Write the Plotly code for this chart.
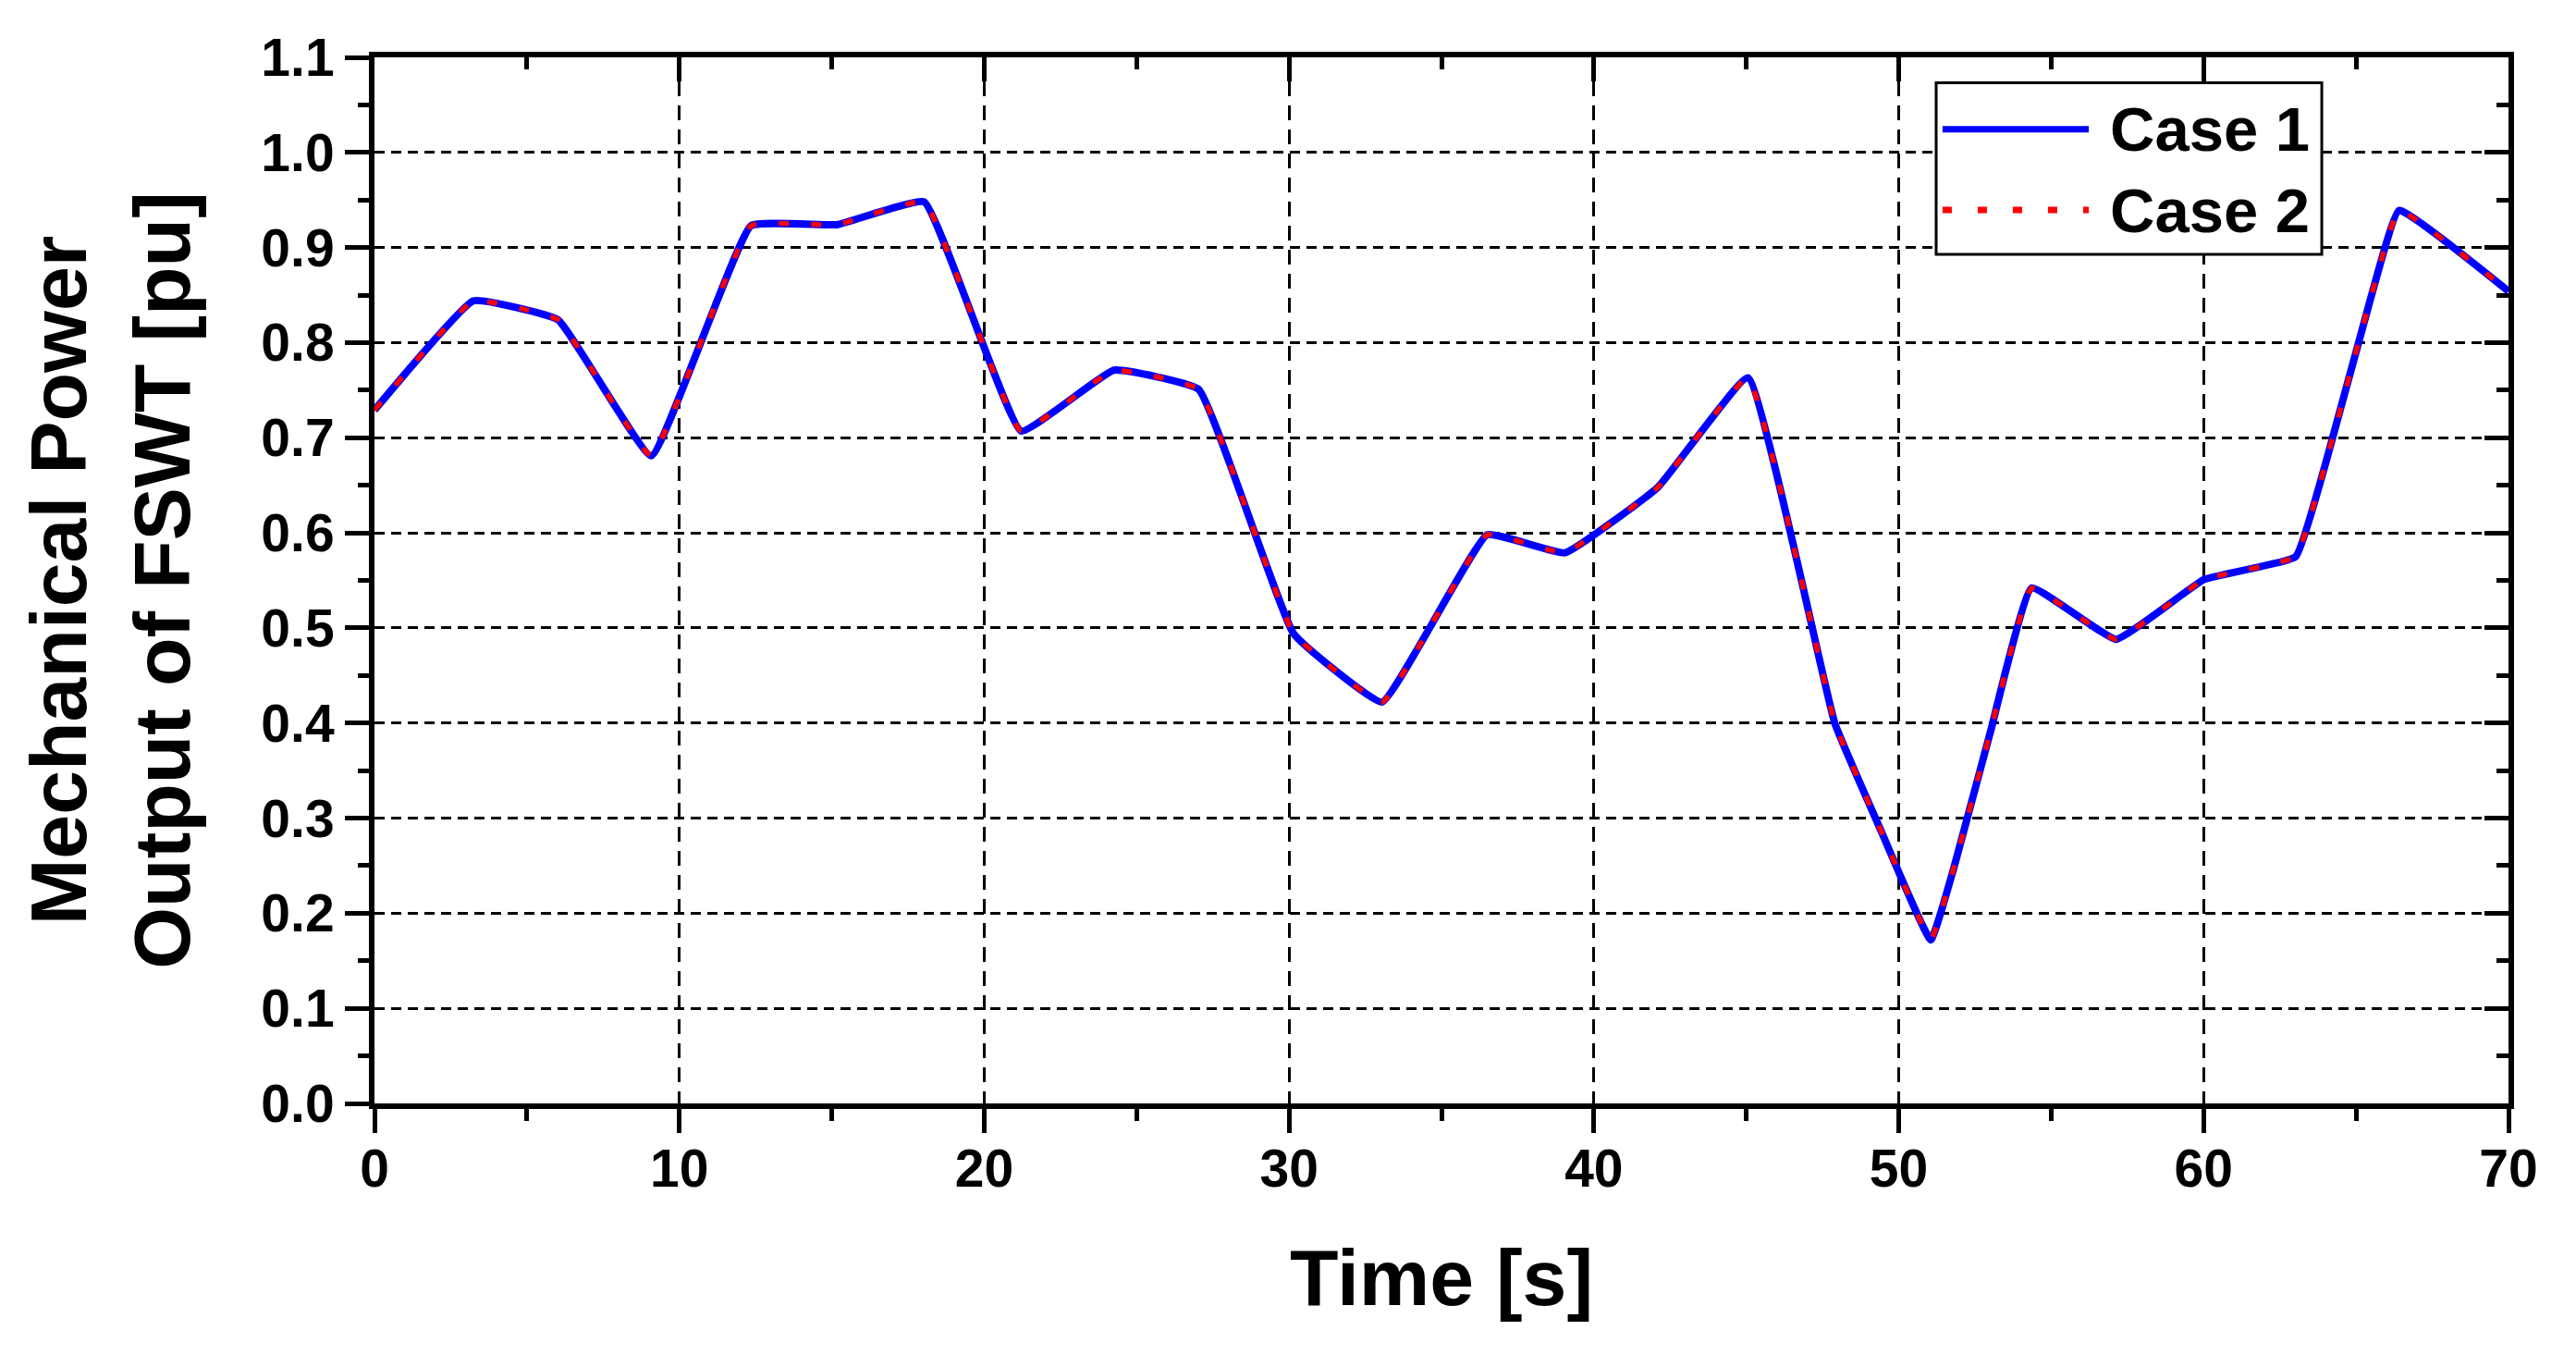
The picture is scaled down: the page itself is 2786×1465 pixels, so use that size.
import plotly.graph_objects as go

# values
time_s = [0, 3.25, 6.02, 9.08, 12.35, 15.17, 18.03, 21.21, 24.25, 27.03,
          30.15, 33.05, 36.5, 39.05, 42.1, 45.05, 47.9, 49.4, 51.05, 51.8,
          53.0, 54.36, 57.13, 60.02, 63.02, 64.0, 65.5, 66.41, 70.0]
case1 = [0.729, 0.844, 0.824, 0.681, 0.923, 0.924, 0.948, 0.707, 0.771, 0.751,
         0.494, 0.422, 0.598, 0.579, 0.648, 0.763, 0.400, 0.288, 0.172, 0.247,
         0.390, 0.542, 0.488, 0.551, 0.575, 0.673, 0.849, 0.939, 0.854]
case2 = [0.729, 0.844, 0.824, 0.681, 0.923, 0.924, 0.948, 0.707, 0.771, 0.751,
         0.494, 0.422, 0.598, 0.579, 0.648, 0.763, 0.400, 0.288, 0.172, 0.247,
         0.390, 0.542, 0.488, 0.551, 0.575, 0.673, 0.849, 0.939, 0.854]
series_names = ["Case 1", "Case 2"]
x_ticks = [0, 10, 20, 30, 40, 50, 60, 70]

FONT = "Arial, Liberation Sans, sans-serif"

fig = go.Figure()
fig.add_trace(go.Scatter(x=time_s, y=case1, mode="lines", name=series_names[0],
                         line=dict(color="#0000ff", width=8,
                                   shape="spline", smoothing=0.3)))
# case 2 goes on the top/right overlay axes (same ranges), drawn over case 1
fig.add_trace(go.Scatter(x=time_s, y=case2, mode="lines", name=series_names[1],
                         xaxis="x2", yaxis="y2",
                         line=dict(color="#ff0000", width=5.5, dash="11px,24px",
                                   shape="spline", smoothing=0.3)))

tickfont = dict(family=FONT, size=57, color="black", weight="bold")
titlefont = dict(family=FONT, size=86, color="black", weight="bold")

# page body has an 8px margin, so margins are shifted to keep the plot area in place
fig.update_layout(
    width=2786, height=1465,
    margin=dict(l=397, r=81, t=54, b=280),
    paper_bgcolor="white", plot_bgcolor="white",
    showlegend=False,
    xaxis=dict(
        range=[0, 70], tickvals=x_ticks, ticks="outside", ticklen=26,
        tickwidth=5, tickcolor="black", tickfont=tickfont,
        ticklabelstandoff=-10,
        showline=True, linewidth=6, linecolor="black",
        showgrid=True, gridcolor="black", gridwidth=3, griddash="16px,10px",
        zeroline=False, automargin=False,
        minor=dict(dtick=5, ticks="outside", ticklen=13, tickwidth=5,
                   tickcolor="black", showgrid=False),
        title=dict(text="Time [s]", font=titlefont, standoff=58),
    ),
    yaxis=dict(
        range=[0, 1.1], tick0=0, dtick=0.1, tickformat=".1f",
        ticks="outside", ticklen=26, tickwidth=5, tickcolor="black",
        tickfont=tickfont,
        showline=True, linewidth=6, linecolor="black",
        showgrid=True, gridcolor="black", gridwidth=3, griddash="11px,7px",
        zeroline=False, automargin=False,
        minor=dict(dtick=0.05, ticks="outside", ticklen=12, tickwidth=5,
                   tickcolor="black", showgrid=False),
        title=dict(text="Mechanical Power<br>Output of FSWT [pu]",
                   font=titlefont, standoff=50),
    ),
    xaxis2=dict(
        overlaying="x", side="top", anchor="y", range=[0, 70],
        tickvals=x_ticks, ticks="inside", ticklen=26, tickwidth=5,
        tickcolor="black", showticklabels=False,
        showline=True, linewidth=6, linecolor="black",
        showgrid=False, zeroline=False,
        minor=dict(dtick=5, ticks="inside", ticklen=13, tickwidth=5,
                   tickcolor="black", showgrid=False),
    ),
    yaxis2=dict(
        overlaying="y", side="right", anchor="x", range=[0, 1.1],
        tick0=0, dtick=0.1, ticks="inside", ticklen=26, tickwidth=5,
        tickcolor="black", showticklabels=False,
        showline=True, linewidth=6, linecolor="black",
        showgrid=False, zeroline=False,
        minor=dict(dtick=0.05, ticks="inside", ticklen=13, tickwidth=5,
                   tickcolor="black", showgrid=False),
    ),
)

# legend drawn by hand so the sample lines are as long as in the original
fig.add_shape(type="rect", xref="paper", yref="paper",
              x0=0.7318, x1=0.9125, y0=0.8117, y1=0.9757,
              line=dict(color="black", width=3), fillcolor="white")
fig.add_shape(type="line", xref="paper", yref="paper",
              x0=0.7348, x1=0.8033, y0=0.9313, y1=0.9313,
              line=dict(color="#0000ff", width=7))
fig.add_shape(type="line", xref="paper", yref="paper",
              x0=0.7348, x1=0.8033, y0=0.8541, y1=0.8541,
              line=dict(color="#ff0000", width=7, dash="10px,28px"))
for name, ypos in zip(series_names, [0.9313, 0.8541]):
    fig.add_annotation(xref="paper", yref="paper", x=0.8124, y=ypos,
                       xanchor="left", yanchor="middle", text=name,
                       showarrow=False,
                       font=dict(family=FONT, size=67, color="black",
                                 weight="bold"))

fig.write_html("out.html")
